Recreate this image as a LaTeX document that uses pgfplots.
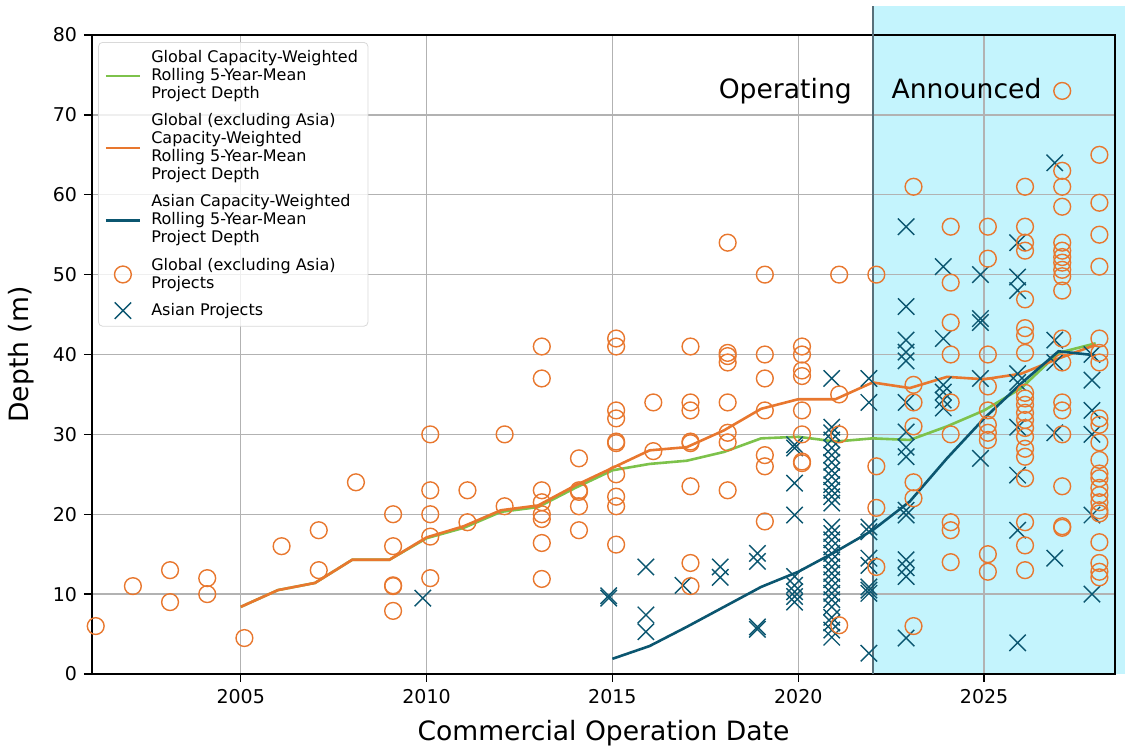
\documentclass[border=0pt]{standalone}
\usepackage{fontspec}
\setmainfont{DejaVu Sans}
\usepackage{pgfplots}
\pgfplotsset{compat=1.18}
\usetikzlibrary{calc}
\definecolor{cOrange}{HTML}{E8772E}
\definecolor{cGreen}{HTML}{7DC24B}
\definecolor{cTeal}{HTML}{0B5670}
\definecolor{cShade}{HTML}{C4F4FD}
\definecolor{cEdge}{HTML}{58707A}
\begin{document}
\begin{tikzpicture}
\begin{axis}[
  name=ax,
  set layers,
  scale only axis,
  width=511.5pt, height=319.5pt,
  xmin=2001, xmax=2028.52,
  ymin=0, ymax=80,
  clip=false,
  xtick={2005,2010,2015,2020,2025},
  ytick={0,10,...,80},
  xtick pos=bottom, ytick pos=left,
  tick align=outside,
  major tick length=4pt,
  tick style={black, line width=0.7pt},
  axis line style={black, line width=0.75pt},
  grid=major,
  grid style={color=black!30, line width=0.7pt},
  /pgf/number format/assume math mode=true,
  /pgf/number format/1000 sep={},
  tick label style={font=\fontsize{9.5}{11}\selectfont},
  xlabel={Commercial Operation Date},
  ylabel={Depth (m)},
  label style={font=\fontsize{13.3}{15}\selectfont},
  xlabel style={at={(axis description cs:0.5,-0.1033)}, anchor=base},
  ylabel style={at={(axis description cs:-0.0616,0.5)}, anchor=base},
  legend style={at={(axis description cs:0.006,0.989)}, anchor=north west,
    draw=black!15, rounded corners=2pt, fill=white, fill opacity=0.8,
    text opacity=1, font=\fontsize{8}{9}\selectfont,
    cells={align=left, anchor=west}, row sep=2pt, column sep=3pt},
  legend cell align=left,
]
% announced period
\addplot[draw=none, fill=cShade, forget plot, on layer=axis background]
  coordinates {(2022,0) (2029,0) (2029,83.6) (2022,83.6)} -- cycle;
\addplot[cEdge, line width=1.1pt, forget plot] coordinates {(2022,0) (2022,83.6)};

% Asian projects
\addplot[only marks, mark=x, mark size=5.8pt, cTeal, mark options={line width=0.7pt}, forget plot]
coordinates {
(2009.9,9.5)
(2014.9,9.8) (2014.9,9.5)
(2015.9,13.4) (2015.9,7.4) (2015.9,5.3)
(2016.9,11.1)
(2017.9,13.4) (2017.9,12.1)
(2018.9,15.1) (2018.9,14.1) (2018.9,5.9) (2018.9,5.6)
(2019.9,28.7) (2019.9,28.3) (2019.9,23.9) (2019.9,19.9) (2019.9,12.2) (2019.9,11.1) (2019.9,10.3) (2019.9,9.7) (2019.9,9.0)
(2020.9,37) (2020.9,30.9) (2020.9,30.2) (2020.9,29.3) (2020.9,28.3) (2020.9,27.4) (2020.9,26.5) (2020.9,25.5) (2020.9,24.7) (2020.9,23.7) (2020.9,23.0) (2020.9,22.2) (2020.9,21.4)
(2020.9,18.4) (2020.9,17.6) (2020.9,16.8) (2020.9,15.9) (2020.9,15.1) (2020.9,14.3) (2020.9,13.4) (2020.9,12.6) (2020.9,11.8) (2020.9,10.9) (2020.9,10.1) (2020.9,9.3) (2020.9,8.4) (2020.9,7.1) (2020.9,6.4) (2020.9,5.5) (2020.9,4.6)
(2021.9,37) (2021.9,34) (2021.9,18.4) (2021.9,17.8) (2021.9,14.5) (2021.9,13.6) (2021.9,10.9) (2021.9,10.5) (2021.9,10.1) (2021.9,2.6)
(2022.9,56) (2022.9,46) (2022.9,41.8) (2022.9,40.3) (2022.9,39.2) (2022.9,34) (2022.9,30.3) (2022.9,28.4) (2022.9,27.2) (2022.9,20.5) (2022.9,19.9) (2022.9,14.3) (2022.9,13.3) (2022.9,12.2) (2022.9,4.5)
(2023.9,51) (2023.9,42) (2023.9,36.2) (2023.9,35.3) (2023.9,34.3) (2023.9,33.3)
(2024.9,50) (2024.9,44.5) (2024.9,44) (2024.9,37) (2024.9,27)
(2025.9,54) (2025.9,49.7) (2025.9,48) (2025.9,37.6) (2025.9,36.5) (2025.9,30.9) (2025.9,24.9) (2025.9,18) (2025.9,3.9)
(2026.9,64) (2026.9,41.8) (2026.9,39) (2026.9,30.2) (2026.9,14.5)
(2027.9,40) (2027.9,36.8) (2027.9,33) (2027.9,30) (2027.9,19.9) (2027.9,10)
};

% Global (excluding Asia) projects
\addplot[only marks, mark=o, mark size=4.2pt, cOrange, mark options={line width=0.7pt}, forget plot]
coordinates {
(2001.1,6)
(2002.1,11)
(2003.1,13) (2003.1,9)
(2004.1,12) (2004.1,10)
(2005.1,4.5)
(2006.1,16)
(2007.1,18) (2007.1,13)
(2008.1,24)
(2009.1,20) (2009.1,16) (2009.1,11) (2009.1,11.1) (2009.1,7.9)
(2010.1,30) (2010.1,23) (2010.1,20) (2010.1,17.2) (2010.1,12)
(2011.1,23) (2011.1,19)
(2012.1,30) (2012.1,21)
(2013.1,41) (2013.1,37) (2013.1,23) (2013.1,21.5) (2013.1,20) (2013.1,19.4) (2013.1,16.4) (2013.1,11.9)
(2014.1,27) (2014.1,23) (2014.1,22.8) (2014.1,21) (2014.1,18)
(2015.1,42) (2015.1,41) (2015.1,33) (2015.1,32) (2015.1,29.1) (2015.1,28.9) (2015.1,25) (2015.1,22.2) (2015.1,21) (2015.1,16.2)
(2016.1,34) (2016.1,27.9)
(2017.1,41) (2017.1,34) (2017.1,33) (2017.1,29.1) (2017.1,28.9) (2017.1,23.5) (2017.1,13.9) (2017.1,11)
(2018.1,54) (2018.1,40.2) (2018.1,39.8) (2018.1,39) (2018.1,34) (2018.1,30.2) (2018.1,29) (2018.1,23)
(2019.1,50) (2019.1,40) (2019.1,37) (2019.1,33) (2019.1,27.4) (2019.1,26) (2019.1,19.1)
(2020.1,41) (2020.1,40) (2020.1,38) (2020.1,37.3) (2020.1,33) (2020.1,30) (2020.1,26.6) (2020.1,26.4)
(2021.1,50) (2021.1,35) (2021.1,30) (2021.1,6.1)
(2022.1,50) (2022.1,26) (2022.1,20.8) (2022.1,13.4)
(2023.1,61) (2023.1,36.2) (2023.1,34) (2023.1,31) (2023.1,24) (2023.1,22) (2023.1,6)
(2024.1,56) (2024.1,49) (2024.1,44) (2024.1,40) (2024.1,34) (2024.1,30) (2024.1,19) (2024.1,18) (2024.1,14)
(2025.1,56) (2025.1,52) (2025.1,40) (2025.1,36) (2025.1,33) (2025.1,31.2) (2025.1,30.2) (2025.1,29.3) (2025.1,15) (2025.1,12.8)
(2026.1,61) (2026.1,56) (2026.1,54) (2026.1,53) (2026.1,46.9) (2026.1,43.3) (2026.1,42.4) (2026.1,40.2) (2026.1,35.2) (2026.1,34.5) (2026.1,33.7) (2026.1,32.7) (2026.1,31.8) (2026.1,30.8) (2026.1,29.7) (2026.1,28.2) (2026.1,27.2) (2026.1,24.5) (2026.1,19) (2026.1,16.1) (2026.1,13)
(2027.1,73) (2027.1,63) (2027.1,61) (2027.1,58.5) (2027.1,54) (2027.1,53) (2027.1,52.2) (2027.1,51.5) (2027.1,50.6) (2027.1,49.8) (2027.1,48) (2027.1,42) (2027.1,39) (2027.1,34) (2027.1,33) (2027.1,30) (2027.1,23.5) (2027.1,18.5) (2027.1,18.3)
(2028.1,65) (2028.1,59) (2028.1,55) (2028.1,51) (2028.1,42) (2028.1,40.2) (2028.1,39) (2028.1,32) (2028.1,31.2) (2028.1,29) (2028.1,26.8) (2028.1,25.1) (2028.1,24.5) (2028.1,23.3) (2028.1,22.4) (2028.1,21.5) (2028.1,20.5) (2028.1,20.1) (2028.1,16.5) (2028.1,13.9) (2028.1,12.8) (2028.1,12.1)
};

% rolling means
\addplot[cGreen, line width=1.3pt, forget plot] coordinates {
(2005,8.4) (2006,10.5) (2007,11.4) (2008,14.3) (2009,14.3) (2010,17.0) (2011,18.3) (2012,20.3) (2013,20.9) (2014,23.3)
(2015,25.5) (2016,26.3) (2017,26.7) (2018,27.8) (2019,29.5) (2020,29.7) (2021,29.1) (2022,29.5) (2023,29.3) (2024,31.0)
(2025,33.0) (2026,35.8) (2027,40.2) (2028,41.4)
};
\addplot[cOrange, line width=1.3pt, forget plot] coordinates {
(2005,8.4) (2006,10.5) (2007,11.4) (2008,14.3) (2009,14.3) (2010,17.1) (2011,18.5) (2012,20.5) (2013,21.1) (2014,23.6)
(2015,25.8) (2016,28.0) (2017,28.4) (2018,30.5) (2019,33.2) (2020,34.4) (2021,34.4) (2022,36.5) (2023,35.8) (2024,37.2)
(2025,36.9) (2026,37.6) (2027,39.5) (2028,41.2)
};
\addplot[cTeal, line width=1.3pt, forget plot] coordinates {
(2015,1.9) (2016,3.5) (2017,5.9) (2018,8.4) (2019,10.9) (2020,12.8) (2021,15.3) (2022,18.0) (2023,21.6) (2024,27.0)
(2025,32.0) (2026,36.4) (2027,40.4) (2028,39.9)
};

\addlegendimage{cGreen, line width=1.3pt}
\addlegendentry{Global Capacity-Weighted\\Rolling 5-Year-Mean\\Project Depth}
\addlegendimage{cOrange, line width=1.3pt}
\addlegendentry{Global (excluding Asia)\\Capacity-Weighted\\Rolling 5-Year-Mean\\Project Depth}
\addlegendimage{cTeal, line width=1.3pt}
\addlegendentry{Asian Capacity-Weighted\\Rolling 5-Year-Mean\\Project Depth}
\addlegendimage{only marks, mark=o, mark size=4.2pt, cOrange, mark options={line width=0.7pt}}
\addlegendentry{Global (excluding Asia)\\Projects}
\addlegendimage{only marks, mark=x, mark size=5.8pt, cTeal, mark options={line width=0.7pt}}
\addlegendentry{Asian Projects}

\node[anchor=base east, inner sep=0pt, font=\fontsize{13.3}{15}\selectfont] at (axis cs:2021.45,72) {Operating};
\node[anchor=base west, inner sep=0pt, font=\fontsize{13.3}{15}\selectfont] at (axis cs:2022.5,72) {Announced};
\end{axis}
\pgfresetboundingbox
\path[use as bounding box] ($(ax.south west)+(-46pt,-37.5pt)$) rectangle ($(ax.north east)+(5pt,17.5pt)$);
\end{tikzpicture}
\end{document}
